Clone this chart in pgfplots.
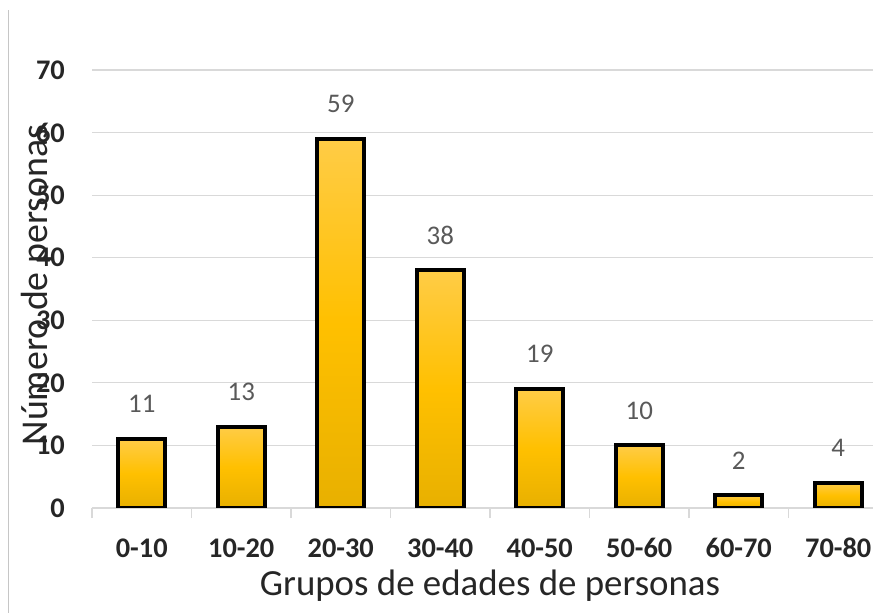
\documentclass[border=0pt]{standalone}
\usepackage{fontspec}
\setmainfont{Carlito}
\usepackage{pgfplots}
\pgfplotsset{compat=1.18}
\definecolor{gridgray}{RGB}{217,217,217}
\definecolor{txtgray}{RGB}{89,89,89}
\definecolor{labgray}{RGB}{38,38,38}
\definecolor{goldtop}{RGB}{255,204,70}
\definecolor{goldmid}{RGB}{255,192,0}
\definecolor{goldbot}{RGB}{232,176,0}

\pgfplotsset{goldbar/.style={draw=black, line width=4bp, bar shift=0pt,
  top color=goldtop, bottom color=goldbot, middle color=goldmid}}

\begin{document}
\begin{tikzpicture}
\begin{axis}[
  at={(92bp,105bp)}, anchor=south west,
  scale only axis, width=796bp, height=438bp,
  ybar, bar width=0.47,
  xmin=-0.5, xmax=7.5, ymin=0, ymax=70,
  ytick={0,10,...,70},
  xtick={0,...,7},
  xticklabels={0-10,10-20,20-30,30-40,40-50,50-60,60-70,70-80},
  major tick length=0pt,
  tick align=outside,
  extra x ticks={-0.5,0.5,1.5,2.5,3.5,4.5,5.5,6.5,7.5},
  extra x tick labels={},
  extra x tick style={major tick length=10bp, tick style={draw=gridgray, line width=1.2bp}},
  axis x line*=bottom, axis y line*=left,
  x axis line style={draw=gridgray, line width=1.2bp},
  y axis line style={draw=none},
  ytick style={draw=none},
  ymajorgrids, grid style={draw=gridgray, line width=1.2bp},
  /pgf/number format/assume math mode=true,
  ticklabel style={font=\bfseries\fontsize{28.5}{28.5}\selectfont, text=labgray},
  yticklabel style={inner sep=0pt, anchor=east, xshift=-27bp},
  xticklabel style={inner sep=0pt, anchor=center, yshift=-40bp},
  xlabel={Grupos de edades de personas},
  xlabel style={at={(axis description cs:0.5,-0.178)}, anchor=center,
    font=\fontsize{37}{37}\selectfont, text=labgray},
  ylabel={Número de personas},
  ylabel style={at={(axis description cs:-0.068,0.509)}, anchor=center,
    font=\fontsize{38}{38}\selectfont, text=labgray},
  nodes near coords,
  every node near coord/.append style={font=\fontsize{27}{27}\selectfont,
    text=txtgray, anchor=center, yshift=35bp},
]
% one plot per bar so each bar gets its own gradient
\addplot[goldbar] coordinates {(0,11)};
\addplot[goldbar] coordinates {(1,13)};
\addplot[goldbar] coordinates {(2,59)};
\addplot[goldbar] coordinates {(3,38)};
\addplot[goldbar] coordinates {(4,19)};
\addplot[goldbar] coordinates {(5,10)};
\addplot[goldbar] coordinates {(6,2)};
\addplot[goldbar] coordinates {(7,4)};
\end{axis}
\draw[gray!45, line width=1bp] (8bp,0bp) -- (8bp,603bp);
\pgfresetboundingbox
\useasboundingbox (0bp,0bp) rectangle (873bp,613bp);
\end{tikzpicture}
\end{document}
